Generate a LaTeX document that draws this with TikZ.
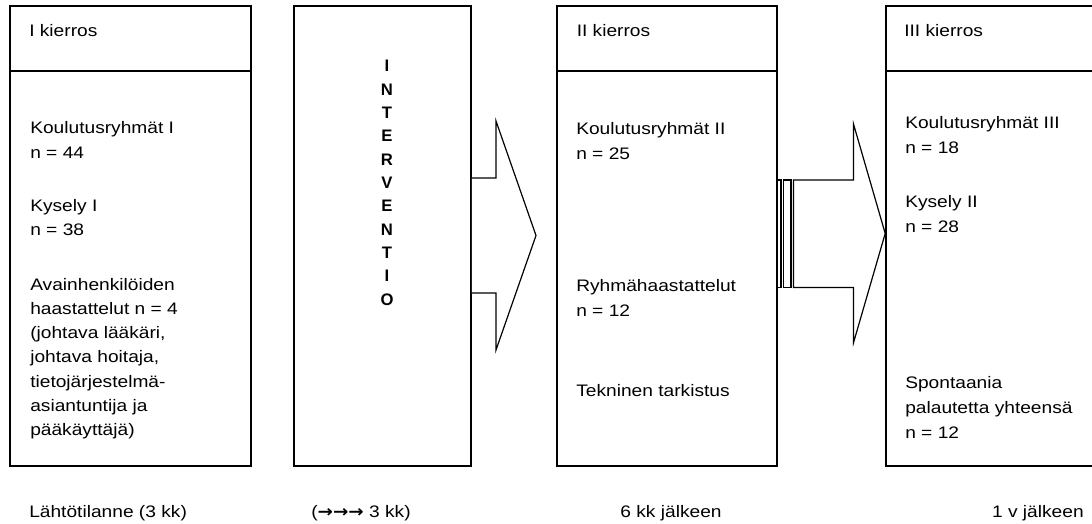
\documentclass[tikz,border=0pt]{standalone}
\usepackage{fontspec}
\setmainfont{Liberation Sans}[FakeStretch=1.15]
\newfontfamily\ivfont{Liberation Sans}
\newfontfamily\arrowfont{DejaVu Sans}[FakeStretch=1.1]
\usetikzlibrary{fit}
\begin{document}
\begin{tikzpicture}[x=0.75pt,y=-0.75pt,
  box/.style={draw, line width=1.2pt, inner sep=0pt, fit={#1}},
  divline/.style={line width=1.2pt},
  blockarrow/.style={draw, line width=0.9pt, line join=miter, fill=white},
  txt/.style={anchor=base west, inner sep=0pt, font=\fontsize{12.5}{15}\selectfont},
  bottomlbl/.style={txt, anchor=base},
  vl/.style={anchor=base, inner sep=0pt, font=\ivfont\fontsize{12.5}{15}\selectfont\bfseries}]
\path[fill=white,use as bounding box] (0,0) rectangle (1092,524);

% boxes
\node[box={(10,6) (251,466)}] (b1) {};
\node[box={(294,6) (471,466)}] (b2) {};
\node[box={(557,6) (777,466)}] (b3) {};
\node[box={(886,6) (1096,466)}] (b4) {};
\draw[divline] (b1.west |- 0,71) -- (b1.east |- 0,71);
\draw[divline] (b3.west |- 0,71) -- (b3.east |- 0,71);
\draw[divline] (b4.west |- 0,71) -- (b4.east |- 0,71);

% arrow 1: intervention -> II kierros
\draw[blockarrow] (b2.east |- 0,178) -- (496,178) -- (496,121) -- (536,235.5)
  -- (496,350) -- (496,293) -- (b2.east |- 0,293);

% arrow 2: striped arrow II -> III
\draw[blockarrow] (b3.east |- 0,180) rectangle (781,287.5);
\draw[blockarrow] (783.5,180) rectangle (791,287.5);
\draw[blockarrow] (793.5,180) -- (853.5,180) -- (853.5,124) -- (b4.west |- 0,233.5)
  -- (853.5,342.7) -- (853.5,287.5) -- (793.5,287.5) -- cycle;

% headers
\node[txt] (h1) at (29,37) {I kierros};
\node[txt] (h3) at (576.5,37) {II kierros};
\node[txt] (h4) at (904,37) {III kierros};

% box 1 text
\node[txt] (t11) at (30,134) {Koulutusryhmät I};
\node[txt] (t12) at (30,158.5) {n = 44};
\node[txt] (t13) at (30,211.5) {Kysely I};
\node[txt] (t14) at (30,235.5) {n = 38};
\node[txt] (t15) at (30,290) {Avainhenkilöiden};
\node[txt] (t16) at (30,314.3) {haastattelut n = 4};
\node[txt] (t17) at (30,338.6) {(johtava lääkäri,};
\node[txt] (t18) at (30,362.9) {johtava hoitaja,};
\node[txt] (t19) at (30,387.2) {tietojärjestelmä-};
\node[txt] (t110) at (30,411.5) {asiantuntija ja};
\node[txt] (t111) at (30,435.8) {pääkäyttäjä)};

% intervention letters
\foreach \c [count=\i from 0] in {I,N,T,E,R,V,E,N,T,I,O}
  \node[vl] (iv\i) at (387,{71.7+23.33*\i}) {\c};

% box 3 text
\node[txt] (t31) at (576,135) {Koulutusryhmät II};
\node[txt] (t32) at (576,160) {n = 25};
\node[txt] (t33) at (576,291.5) {Ryhmähaastattelut};
\node[txt] (t34) at (576,316.5) {n = 12};
\node[txt] (t35) at (576,396) {Tekninen tarkistus};

% box 4 text
\node[txt] (t41) at (905,129) {Koulutusryhmät III};
\node[txt] (t42) at (905,154) {n = 18};
\node[txt] (t43) at (905,207) {Kysely II};
\node[txt] (t44) at (905,232) {n = 28};
\node[txt] (t45) at (905,388.5) {Spontaania};
\node[txt] (t46) at (905,413.5) {palautetta yhteensä};
\node[txt] (t47) at (905,438.5) {n = 12};

% bottom labels
\node[txt] (l1) at (29,517) {Lähtötilanne (3 kk)};
\node[bottomlbl] (l2) at (361,517) {({\arrowfont\bfseries →→→} 3 kk)};
\node[bottomlbl] (l3) at (671,517) {6 kk jälkeen};
\node[txt, anchor=base east] (l4) at (1084,517) {1 v jälkeen};
\end{tikzpicture}
\end{document}
